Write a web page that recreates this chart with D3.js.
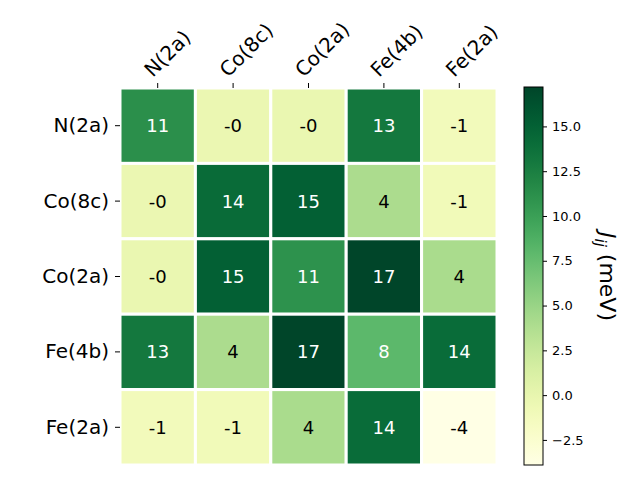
<!DOCTYPE html>
<html>
<head>
<meta charset="utf-8">
<script src="https://cdn.jsdelivr.net/npm/d3@7"></script>
<style>
  body { margin: 0; background: #fff; }
  text { font-family: "DejaVu Sans", sans-serif; }
</style>
</head>
<body>
<svg id="chart" width="640" height="480"></svg>
<script>
var sites = ["N(2a)", "Co(8c)", "Co(2a)", "Fe(4b)", "Fe(2a)"];
var jij = [
  [11.2, -0.3, -0.2, 13.1, -1.1],
  [-0.3, 14.2, 15.1, 4.0, -1.0],
  [-0.2, 15.1, 11.0, 17.2, 4.1],
  [13.1, 4.0, 17.2, 8.0, 14.1],
  [-1.1, -1.0, 4.1, 14.1, -3.9]
];
var cbTicks = [-2.5, 0, 2.5, 5, 7.5, 10, 12.5, 15];

(function () {
  var svg = d3.select("#chart"),
      left = 120, mTop = 88, size = 377;

  var x = d3.scaleBand().domain(sites).range([left, left + size]);
  var y = d3.scaleBand().domain(sites).range([mTop, mTop + size]);
  var vmin = d3.min(jij, function(r) { return d3.min(r); }),
      vmax = d3.max(jij, function(r) { return d3.max(r); });
  var color = d3.scaleSequential(d3.interpolateYlGn).domain([vmin, vmax]);

  var cells = [];
  jij.forEach(function(row, i) {
    row.forEach(function(v, j) { cells.push({r: sites[i], c: sites[j], v: v}); });
  });

  var g = svg.append("g");
  g.selectAll("rect").data(cells).enter().append("rect")
    .attr("x", function(d) { return x(d.c); })
    .attr("y", function(d) { return y(d.r); })
    .attr("width", x.bandwidth())
    .attr("height", y.bandwidth())
    .attr("fill", function(d) { return color(d.v); })
    .attr("stroke", "#fff")
    .attr("stroke-width", 3);

  g.selectAll("text.ann").data(cells).enter().append("text")
    .attr("class", "ann")
    .attr("x", function(d) { return x(d.c) + x.bandwidth() / 2; })
    .attr("y", function(d) { return y(d.r) + y.bandwidth() / 2; })
    .attr("dy", "0.36em")
    .attr("text-anchor", "middle")
    .style("font-size", "18px")
    .attr("fill", function(d) { return d.v > 7 ? "#fff" : "#000"; })
    .text(function(d) { var n = Math.round(d.v); return (n === 0 && d.v < 0) ? "-0" : String(n); });

  // top axis, labels rotated 45deg
  var xa = svg.append("g").attr("transform", "translate(0," + mTop + ")")
    .call(d3.axisTop(x).tickSize(5).tickPadding(6));
  xa.select(".domain").remove();
  xa.selectAll("text")
    .style("font-size", "20px")
    .attr("fill", "#000")
    .attr("text-anchor", "start")
    .attr("dy", "0")
    .attr("x", -5).attr("y", -10)
    .attr("transform", "rotate(-45 -5 -10)");

  var ya = svg.append("g").attr("transform", "translate(" + left + ",0)")
    .call(d3.axisLeft(y).tickSize(5).tickPadding(6));
  ya.select(".domain").remove();
  ya.selectAll("text").style("font-size", "20px").attr("fill", "#000");

  // colorbar
  var cbx = 524, cbw = 19;
  var cy = d3.scaleLinear().domain([vmin, vmax]).range([mTop + size, mTop - 1]);
  var grad = svg.append("defs").append("linearGradient").attr("id", "cb")
    .attr("x1", 0).attr("y1", 1).attr("x2", 0).attr("y2", 0);
  d3.range(0, 1.0001, 0.05).forEach(function(t) {
    grad.append("stop").attr("offset", t).attr("stop-color", d3.interpolateYlGn(t));
  });
  svg.append("rect").attr("x", cbx).attr("y", mTop - 1).attr("width", cbw)
    .attr("height", size + 1).attr("fill", "url(#cb)")
    .attr("stroke", "#000").attr("stroke-width", 1);
  var ca = svg.append("g").attr("transform", "translate(" + (cbx + cbw) + ",0)")
    .call(d3.axisRight(cy).tickValues(cbTicks).tickSize(4).tickPadding(5)
      .tickFormat(function(d) { return d3.format(".1f")(d).replace("-", "\u2212"); }));
  ca.select(".domain").remove();
  ca.selectAll("text").style("font-size", "13px").attr("fill", "#000");

  var lab = svg.append("text")
    .attr("transform", "translate(600," + (mTop + size / 2) + ") rotate(90)")
    .attr("text-anchor", "middle")
    .style("font-size", "22px");
  lab.append("tspan").attr("font-style", "italic").text("J");
  lab.append("tspan").attr("font-style", "italic").attr("dy", 5).style("font-size", "15px").text("ij");
  lab.append("tspan").attr("dy", -5).text(" (meV)");
})();
</script>
</body>
</html>
